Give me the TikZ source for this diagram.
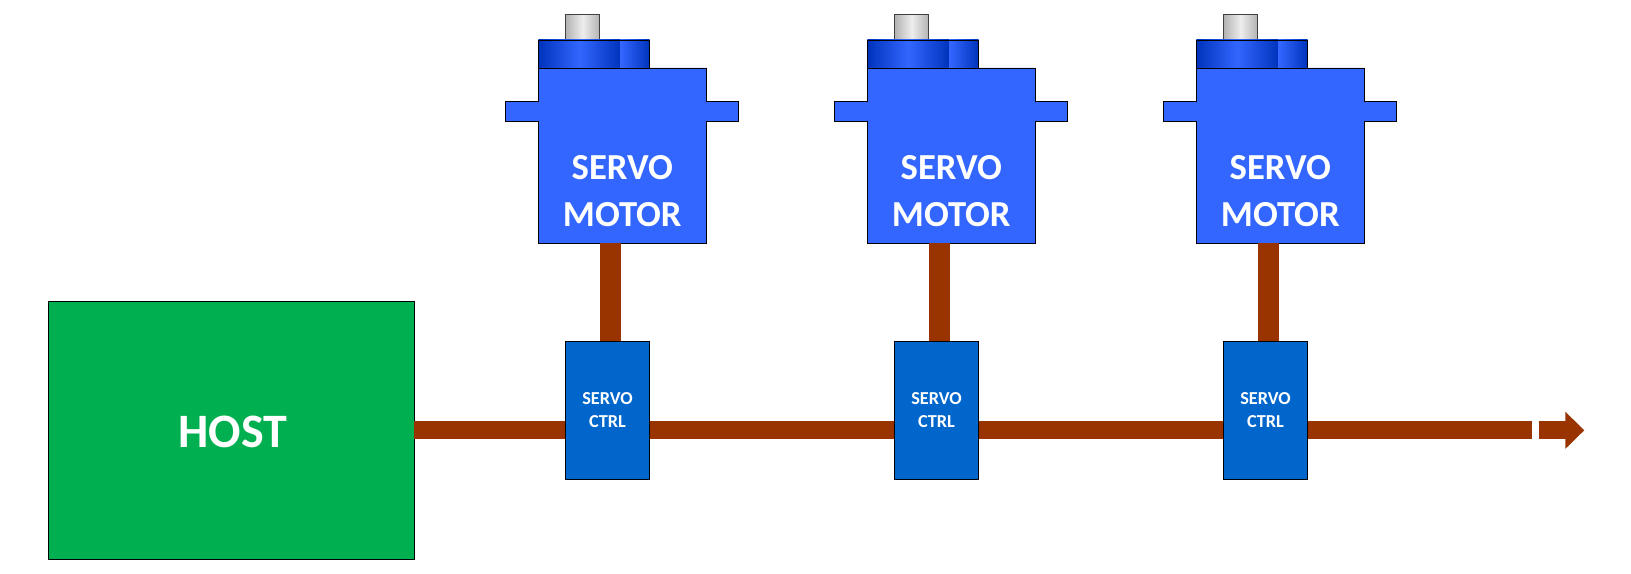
\documentclass[tikz,border=0pt]{standalone}
\usepackage{fontspec}
\setmainfont{Carlito}
\usetikzlibrary{arrows.meta}
\definecolor{busc}{HTML}{993300}
\definecolor{motorc}{HTML}{3366FF}
\definecolor{diskd}{HTML}{0033BB}
\definecolor{ctrlc}{HTML}{0066CC}
\definecolor{hostc}{HTML}{00B050}
\tikzset{
  sized/.style 2 args={minimum width=#1*0.75pt,minimum height=#2*0.75pt,inner sep=0pt,outer sep=0pt},
  edge/.style={draw=black,line width=0.7pt},
  hostbox/.style={edge,fill=hostc,sized={366}{258}},
  hostlabel/.style={text=white,font=\bfseries\fontsize{36}{40}\selectfont},
  ctrlbox/.style={edge,fill=ctrlc,text=white,align=center,font=\bfseries\fontsize{13.7}{17.2}\selectfont},
  motorbody/.style={edge,fill=motorc,line join=miter},
  motorlabel/.style={text=white,align=center,font=\bfseries\fontsize{27.5}{35}\selectfont},
  diskleft/.style={left color=diskd,right color=diskd,middle color=motorc},
  diskright/.style={left color=motorc,right color=diskd},
  diskedge/.style={edge},
  shaftbox/.style={draw=black!75,line width=0.7pt,left color=black!30,right color=black!30,middle color=black!7},
  bus/.style={draw=busc,line width=18*0.75pt},
  stem/.style={draw=busc,line width=21*0.75pt},
}
\begin{document}
\begin{tikzpicture}[x=0.75pt,y=-0.75pt]
\useasboundingbox (0,0) rectangle (1631,574);
\node[hostbox] (host) at (231,430) {};
\node[hostlabel] (hostname) at (233,432) {HOST};
\foreach \i in {1,2,3}{
  \begin{scope}[xshift={(\i-1)*329*0.75pt}]
    \node[shaftbox,sized={34}{26}] (shaft\i) at (582.7,27.5) {};
    \node[diskleft,sized={82.4}{28}] (diskl\i) at (579.5,54) {};
    \node[diskright,sized={29}{28}] (diskr\i) at (635.2,54) {};
    \node[diskedge,sized={111.4}{28}] (disk\i) at (594,54) {};
    \draw[motorbody] (538.3,68) -- (706.3,68) -- (706.3,101.3) -- (738.7,101.3) -- (738.7,121.3)
      -- (706.3,121.3) -- (706.3,243) -- (538.3,243) -- (538.3,121.3) -- (505.3,121.3)
      -- (505.3,101.3) -- (538.3,101.3) -- cycle;
    \node[sized={168}{175}] (body\i) at (622.3,155.5) {};
    \node[motorlabel] (label\i) at (622.3,191) {SERVO\\MOTOR};
    \node[ctrlbox,sized={84.4}{138}] (ctrl\i) at (607.5,410) {SERVO\\CTRL};
    \coordinate (stemx\i) at (610.5,300);
  \end{scope}
  \draw[stem] (body\i.south -| stemx\i) -- (ctrl\i.north -| stemx\i);
}
\coordinate (busy) at (0,430.3);
\coordinate (busend) at (1531.7,430.3);
\coordinate (arrowstart) at (1538.7,430.3);
\coordinate (arrowtip) at (1584.3,430.3);
\draw[bus] (host.east |- busy) -- (ctrl1.west |- busy);
\draw[bus] (ctrl1.east |- busy) -- (ctrl2.west |- busy);
\draw[bus] (ctrl2.east |- busy) -- (ctrl3.west |- busy);
\draw[bus] (ctrl3.east |- busy) -- (busend);
\draw[bus,-{Triangle[length=19*0.75pt,width=36*0.75pt]}] (arrowstart) -- (arrowtip);
\end{tikzpicture}
\end{document}
